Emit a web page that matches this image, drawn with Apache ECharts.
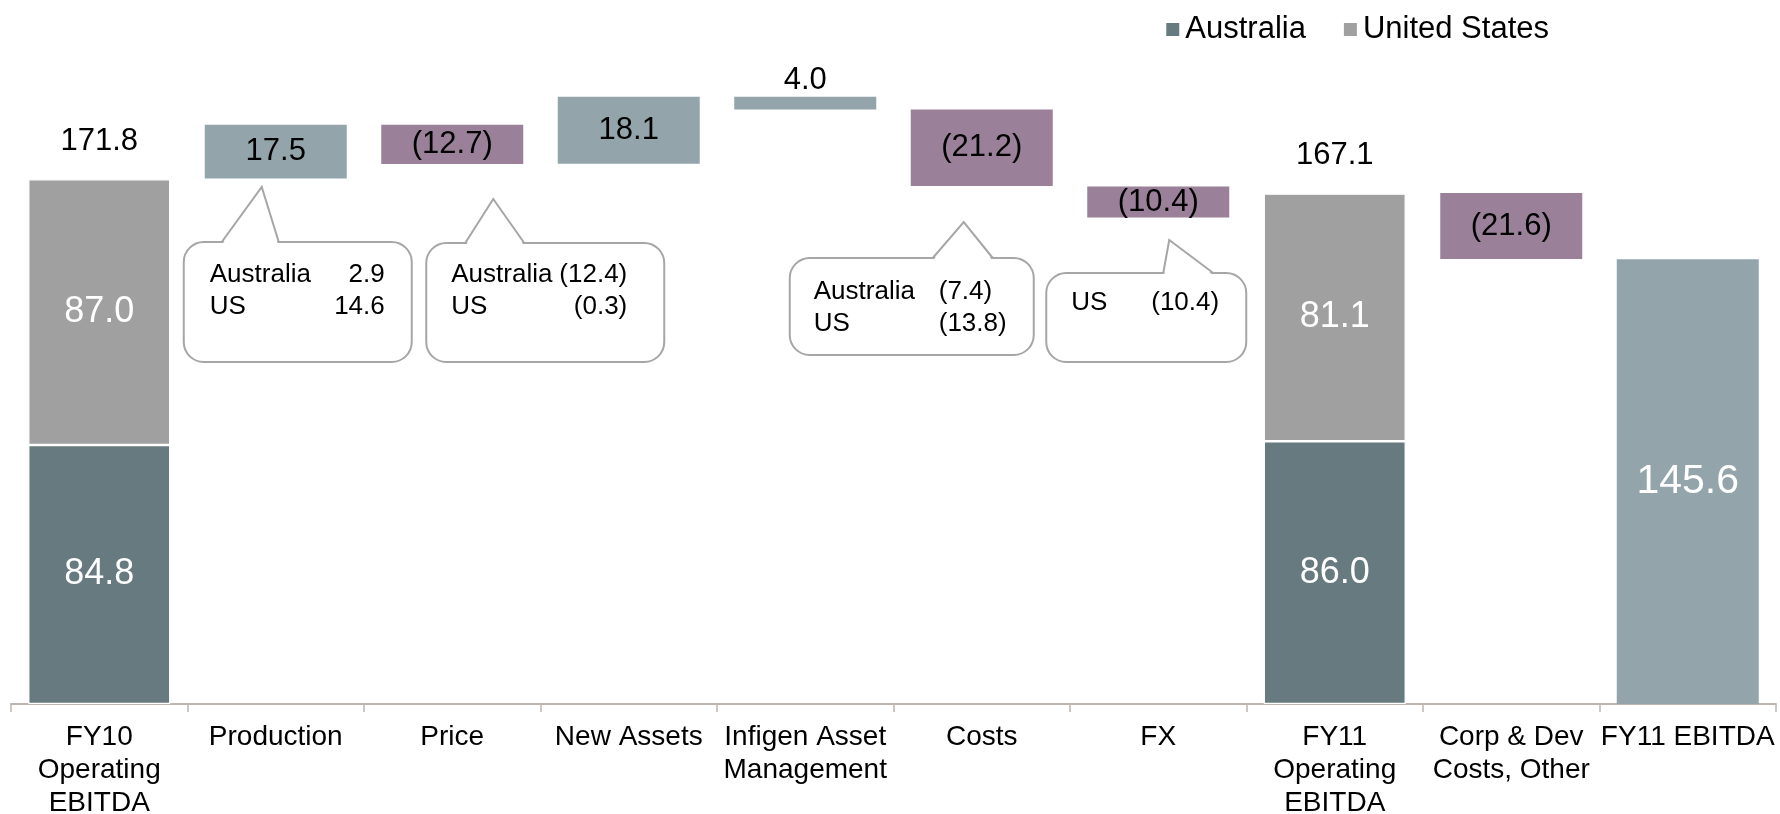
<!DOCTYPE html>
<html>
<head>
<meta charset="utf-8">
<script src="https://cdn.jsdelivr.net/npm/echarts@6/dist/echarts.min.js"></script>
<style>
  html, body { margin: 0; padding: 0; background: #fff; }
  #chart { width: 1780px; height: 814px; }
</style>
</head>
<body>
<div id="chart"></div>
<script>
const categories = [
  'FY10\nOperating\nEBITDA', 'Production', 'Price', 'New Assets', 'Infigen Asset\nManagement',
  'Costs', 'FX', 'FY11\nOperating\nEBITDA', 'Corp & Dev\nCosts, Other', 'FY11 EBITDA'
]
const australia    = [84.8, '-', '-', '-', '-', '-', '-', 86.0, '-', '-']
const unitedStates = [87.0, '-', '-', '-', '-', '-', '-', 81.1, '-', '-']
const totals       = [171.8, '-', '-', '-', '-', '-', '-', 167.1, '-', '-']

// floating boxes as drawn in the picture: bottom and top of each box
const stepLow  = ['-', 172.0, 176.8, 176.9, 194.6, 169.6, 159.3, '-', 145.7, '-']
const stepHigh = ['-', 189.6, 189.6, 198.8, 198.8, 194.6, 169.4, '-', 167.3, 145.6]
const stepDir  = ['', 'up', 'down', 'up', 'up', 'down', 'down', '', 'down', 'up']
const stepText = ['', '17.5', '(12.7)', '18.1', '4.0', '(21.2)', '(10.4)', '', '(21.6)', '145.6']

// callout breakdowns
const splitNames = ['Australia', 'US']
const productionSplit = [2.9, 14.6]
const priceSplit = [-12.4, -0.3]
const costsSplit = [-7.4, -13.8]
const fxSplit = [null, -10.4]

const FONT = "'Liberation Sans', Arial, sans-serif"
const AUS = '#667a80'
const USA = '#a0a0a0'
const UP = '#93a5ab'
const DOWN = '#9a8098'

function fmt(v) {
  return v < 0 ? '(' + Math.abs(v).toFixed(1) + ')' : v.toFixed(1)
}

const whiteLabel = {
  show: true,
  position: 'inside',
  color: '#fff',
  fontSize: 36,
  fontFamily: FONT,
  formatter: (p) => p.value.toFixed(1),
}

function stepData(dir) {
  return stepDir.map((d, i) => {
    if (d !== dir) return '-'
    const item = { value: +(stepHigh[i] - (stepLow[i] === '-' ? 0 : stepLow[i])).toFixed(1) }
    if (i === 4) item.label = { position: 'top', distance: 1 }
    if (i === 9) item.label = { color: '#fff', fontSize: 41 }
    return item
  })
}

const stepLabel = {
  show: true,
  position: 'inside',
  color: '#000',
  fontSize: 31,
  fontFamily: FONT,
  formatter: (p) => stepText[p.dataIndex],
}

const chart = echarts.init(document.getElementById('chart'))

chart.setOption({
  animation: false,
  textStyle: { fontFamily: FONT },
  legend: {
    data: ['Australia', 'United States'],
    right: 226,
    top: 9,
    icon: 'rect',
    itemWidth: 15,
    itemHeight: 15,
    itemGap: 36,
    textStyle: { color: '#000', fontSize: 31, fontFamily: FONT },
  },
  grid: { left: 11, right: 4, top: 32, bottom: 110, outerBoundsMode: 'none' },
  xAxis: {
    type: 'category',
    data: categories,
    axisLine: { lineStyle: { color: '#bdb5b0', width: 2 } },
    axisTick: { show: true, length: 8, lineStyle: { color: '#bdb5b0', width: 1.5 } },
    axisLabel: { interval: 0, color: '#000', fontSize: 28, lineHeight: 33, margin: 17, fontFamily: FONT },
  },
  yAxis: { type: 'value', min: 0, max: 220, show: false },
  series: [
    {
      name: 'base',
      type: 'bar',
      stack: 'w',
      barWidth: 142,
      silent: true,
      itemStyle: { color: 'transparent' },
      data: stepLow,
    },
    {
      name: 'Australia',
      type: 'bar',
      stack: 'w',
      barWidth: 142,
      itemStyle: { color: AUS, borderColor: '#fff', borderWidth: 1.2 },
      label: whiteLabel,
      data: australia,
    },
    {
      name: 'United States',
      type: 'bar',
      stack: 'w',
      barWidth: 142,
      itemStyle: { color: USA, borderColor: '#fff', borderWidth: 1.2 },
      label: whiteLabel,
      data: unitedStates,
    },
    {
      name: 'Increase',
      type: 'bar',
      stack: 'w',
      barWidth: 142,
      itemStyle: { color: UP },
      label: stepLabel,
      data: stepData('up'),
    },
    {
      name: 'Decrease',
      type: 'bar',
      stack: 'w',
      barWidth: 142,
      itemStyle: { color: DOWN },
      label: stepLabel,
      data: stepData('down'),
    },
    {
      name: 'Total',
      type: 'scatter',
      symbolSize: 1,
      itemStyle: { color: '#fff', opacity: 1 },
      label: {
        show: true,
        position: 'top',
        distance: 22,
        color: '#000',
        opacity: 1,
        fontSize: 31,
        fontFamily: FONT,
        formatter: (p) => p.value.toFixed(1),
      },
      data: totals,
    },
  ],
})

// speech-bubble callouts, placed relative to their category's centre
const callouts = [
  { cat: 1, rows: productionSplit, box: [-92, 242, 136, 362], notch: [-54, -14, 187, 3], labelX: -66, valueX: 109, align: 'right', rowY: [275, 307] },
  { cat: 2, rows: priceSplit, box: [-26, 243, 212, 362], notch: [13, 41, 199, 72], labelX: -1, valueX: 175, align: 'right', rowY: [275, 307] },
  { cat: 5, rows: costsSplit, box: [-192, 258, 52, 355], notch: [-49, -18, 222, 11], labelX: -168, valueX: -43, align: 'left', rowY: [292, 324] },
  { cat: 6, rows: fxSplit, box: [-112, 273, 88, 362], notch: [5, 11, 240, 55], labelX: -87, valueX: -7, align: 'left', rowY: [303] },
]

const graphics = []
callouts.forEach((c) => {
  const cx = chart.convertToPixel({ xAxisIndex: 0 }, c.cat)
  const [x0, y0, x1, y1] = c.box
  const [nl, na, ny, nr] = c.notch
  graphics.push({
    type: 'rect',
    shape: { x: cx + x0, y: y0, width: x1 - x0, height: y1 - y0, r: 20 },
    style: { fill: '#fff', stroke: '#a6a6a6', lineWidth: 2 },
    z: 10,
  })
  graphics.push({
    type: 'polygon',
    shape: { points: [[cx + nl + 1, y0 + 1.5], [cx + na, ny], [cx + nr - 1, y0 + 1.5]] },
    style: { fill: '#fff' },
    z: 11,
  })
  graphics.push({
    type: 'polyline',
    shape: { points: [[cx + nl, y0], [cx + na, ny], [cx + nr, y0]] },
    style: { stroke: '#a6a6a6', lineWidth: 2, fill: null },
    z: 12,
  })
  let row = 0
  c.rows.forEach((v, i) => {
    if (v == null) return
    const y = c.rowY[row++]
    graphics.push({
      type: 'text',
      x: cx + c.labelX,
      y: y,
      style: { text: splitNames[i], fill: '#000', fontSize: 26, fontFamily: FONT, align: 'left', verticalAlign: 'middle' },
      z: 13,
    })
    graphics.push({
      type: 'text',
      x: cx + c.valueX,
      y: y,
      style: { text: fmt(v), fill: '#000', fontSize: 26, fontFamily: FONT, align: c.align, verticalAlign: 'middle' },
      z: 13,
    })
  })
})

chart.setOption({ graphic: graphics })
</script>
</body>
</html>
